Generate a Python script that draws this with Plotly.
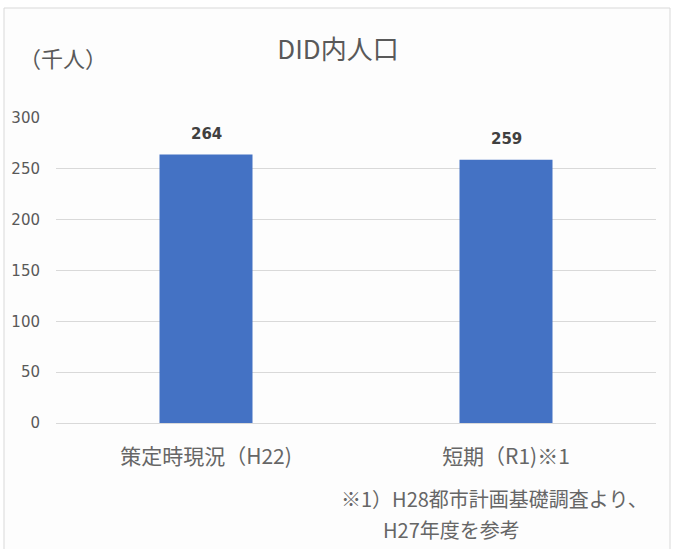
import plotly.graph_objects as go

categories = ["策定時現況（H22)", "短期（R1)※1"]
values = [264, 259]
y_ticks = [0, 50, 100, 150, 200, 250, 300]

FONT = "Noto Sans CJK JP"
NUMFONT = "DejaVu Sans"
GRAY = "#595959"
LIGHT = "#666666"

L, R, T, B = 56, 17, 118, 126
W, H = 673, 549
pw, ph = W - L - R, H - T - B

def px(x):
    return (x - L) / pw

def py(y):
    return (H - B - y) / ph

fig = go.Figure()
fig.add_trace(go.Bar(
    x=categories, y=values,
    marker=dict(color="#4472C4", line=dict(width=0)),
    width=0.31,
    hoverinfo="x+y",
))

for c, v in zip(categories, values):
    fig.add_annotation(x=c, y=v, text=f"<b>{v}</b>", showarrow=False,
                       yanchor="bottom", yshift=10,
                       font=dict(family=NUMFONT, size=15, color="#404040"))

fig.add_annotation(xref="paper", yref="paper", x=px(63), y=py(57),
                   text="（千人）", showarrow=False, xanchor="center", yanchor="middle",
                   font=dict(family=FONT, size=22, color=GRAY))
fig.add_annotation(xref="paper", yref="paper", x=px(494), y=py(498),
                   text="※1）H28都市計画基礎調査より、", showarrow=False,
                   xanchor="center", yanchor="middle",
                   font=dict(family=FONT, size=20, color=LIGHT))
fig.add_annotation(xref="paper", yref="paper", x=px(451), y=py(529),
                   text="H27年度を参考", showarrow=False,
                   xanchor="center", yanchor="middle",
                   font=dict(family=FONT, size=20, color=LIGHT))

fig.add_shape(type="rect", xref="paper", yref="paper", layer="below",
              x0=px(4), x1=px(670), y0=py(570), y1=py(8),
              line=dict(color="#d9d9d9", width=1), fillcolor="#fdfdfd")

fig.update_layout(
    width=W, height=H,
    margin=dict(l=L, r=R, t=T, b=B),
    paper_bgcolor="white", plot_bgcolor="rgba(0,0,0,0)",
    showlegend=False,
    title=dict(text="DID内人口", x=338 / W, xanchor="center",
               y=1 - 50 / H, yanchor="middle", yref="container",
               font=dict(family=FONT, size=26, color=GRAY)),
    xaxis=dict(showgrid=False, showline=False, ticks="",
               tickfont=dict(family=FONT, size=21, color=LIGHT),
               ticklabelstandoff=19),
    yaxis=dict(range=[0, 300], tickvals=y_ticks, showgrid=True,
               gridcolor="#d9d9d9", gridwidth=1, zeroline=True,
               zerolinecolor="#d9d9d9", zerolinewidth=1, showline=False,
               ticks="", tickfont=dict(family=NUMFONT, size=15, color=GRAY),
               ticklabelstandoff=15),
)

fig.write_html("out.html", config={"displayModeBar": False},
               post_script="document.body.style.margin='0';document.body.style.overflow='hidden';")
